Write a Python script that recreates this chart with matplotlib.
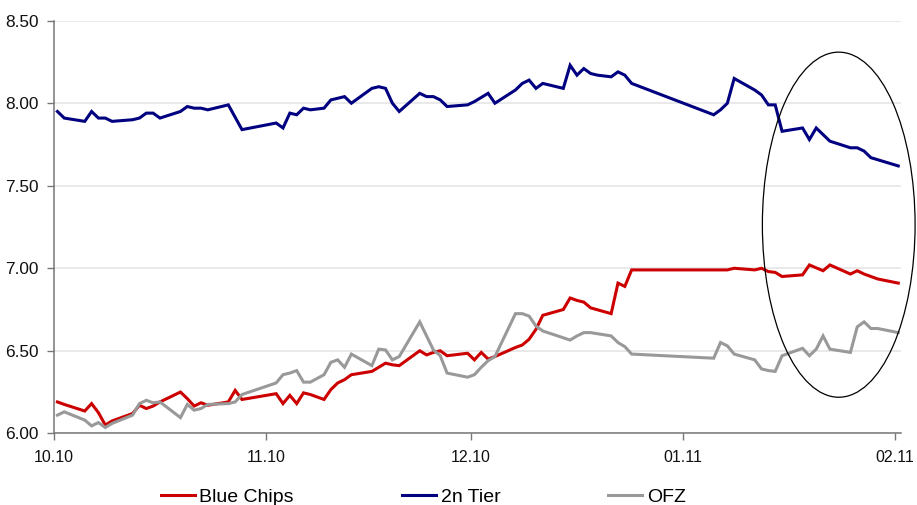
import matplotlib
matplotlib.use("Agg")
import matplotlib.pyplot as plt
import matplotlib.dates as mdates
from matplotlib.patches import Ellipse
import numpy as np
import pandas as pd

plt.rcParams["font.family"] = ["Liberation Sans", "DejaVu Sans"]

# Trading dates and yields (%) for the three bond segments; None = no quote
dates = [
    "2010-10-01", "2010-10-02", "2010-10-05", "2010-10-06", "2010-10-07", "2010-10-08",
    "2010-10-09", "2010-10-12", "2010-10-13", "2010-10-14", "2010-10-15", "2010-10-16",
    "2010-10-19", "2010-10-20", "2010-10-21", "2010-10-22", "2010-10-23", "2010-10-26",
    "2010-10-27", "2010-10-28", "2010-11-02", "2010-11-03", "2010-11-04", "2010-11-05",
    "2010-11-06", "2010-11-07", "2010-11-09", "2010-11-10", "2010-11-11", "2010-11-12",
    "2010-11-13", "2010-11-16", "2010-11-17", "2010-11-18", "2010-11-19", "2010-11-20",
    "2010-11-23", "2010-11-24", "2010-11-25", "2010-11-26", "2010-11-27", "2010-11-30",
    "2010-12-01", "2010-12-02", "2010-12-03", "2010-12-04", "2010-12-07", "2010-12-08",
    "2010-12-09", "2010-12-10", "2010-12-11", "2010-12-14", "2010-12-15", "2010-12-16",
    "2010-12-17", "2010-12-18", "2010-12-19", "2010-12-21", "2010-12-22", "2010-12-23",
    "2010-12-24", "2011-01-05", "2011-01-06", "2011-01-07", "2011-01-08", "2011-01-11",
    "2011-01-12", "2011-01-13", "2011-01-14", "2011-01-15", "2011-01-18", "2011-01-19",
    "2011-01-20", "2011-01-21", "2011-01-22", "2011-01-25", "2011-01-26", "2011-01-27",
    "2011-01-28", "2011-01-29", "2011-02-01",
]

blue_chips = [
    6.19, 6.175, 6.135, 6.18, 6.125, 6.05,
    6.075, 6.12, 6.17, 6.15, 6.165, 6.19,
    6.25, 6.21, 6.165, 6.185, 6.17, 6.19,
    6.26, 6.205, 6.24, 6.18, 6.23, 6.18,
    6.245, 6.235, 6.205, 6.265, 6.305, 6.325,
    6.355, 6.375, 6.40, 6.425, 6.415, 6.41,
    6.50, 6.475, 6.49, 6.50, 6.47, 6.485,
    6.445, 6.49, 6.45, 6.465, 6.52, 6.535,
    6.57, 6.63, 6.715, 6.75, 6.82, 6.805,
    6.795, 6.76, None, 6.725, 6.91, 6.89,
    6.99, 6.99, 6.99, 6.99, 7.00, 6.99,
    7.00, 6.98, 6.975, 6.95, 6.96, 7.02,
    None, 6.985, 7.02, 6.965, 6.985, 6.965,
    None, 6.935, 6.91,
]

second_tier = [
    7.95, 7.91, 7.89, 7.95, 7.91, 7.91,
    7.89, 7.90, 7.91, 7.94, 7.94, 7.91,
    7.95, 7.98, 7.97, 7.97, 7.96, 7.99,
    None, 7.84, 7.88, 7.85, 7.94, 7.93,
    7.97, 7.96, 7.97, 8.02, 8.03, 8.04,
    8.00, 8.09, 8.10, 8.09, 8.00, 7.95,
    8.06, 8.04, 8.04, 8.02, 7.98, 7.99,
    8.01, None, 8.06, 8.00, 8.08, 8.12,
    8.14, 8.09, 8.12, 8.09, 8.23, 8.17,
    8.21, 8.18, 8.17, 8.16, 8.19, 8.17,
    8.12, 7.93, 7.96, 8.00, 8.15, 8.08,
    8.05, 7.99, 7.99, 7.83, 7.85, 7.78,
    7.85, None, 7.77, 7.73, 7.73, 7.71,
    7.67, None, 7.62,
]

ofz = [
    6.11, 6.13, 6.08, 6.045, 6.065, 6.035,
    6.06, 6.11, 6.18, 6.20, 6.185, 6.19,
    6.095, 6.175, 6.14, 6.15, 6.175, 6.18,
    6.19, 6.235, 6.305, 6.355, 6.365, 6.38,
    6.31, 6.31, 6.355, 6.43, 6.445, 6.40,
    6.48, 6.41, 6.51, 6.505, 6.445, 6.465,
    6.675, 6.59, 6.505, 6.47, 6.365, 6.34,
    6.355, 6.40, 6.44, 6.465, 6.725, 6.725,
    6.71, 6.65, 6.62, None, 6.565, 6.59,
    6.61, 6.61, None, 6.59, 6.55, 6.525,
    6.48, 6.455, 6.55, 6.53, 6.48, 6.445,
    6.39, 6.38, 6.375, 6.47, 6.515, 6.47,
    6.51, 6.59, 6.51, 6.49, 6.645, 6.675,
    6.635, 6.635, 6.61,
]

series_names = ["Blue Chips", "2n Tier", "OFZ"]
series_colors = ["#cc0000", "#000080", "#999999"]

y_ticks = [6.00, 6.50, 7.00, 7.50, 8.00, 8.50]

# Figure layout
W, H = 917, 505
fig = plt.figure(figsize=(W / 100, H / 100), dpi=100)
ax = fig.add_axes([54 / W, 1 - 433.3 / H, (901 - 54) / W, (433.3 - 20.7) / H])

# Points sit in the middle of their day, as on a date axis between tick marks
x_all = mdates.date2num(pd.to_datetime(dates)) + 0.5

for name, values, color in zip(series_names, [blue_chips, second_tier, ofz], series_colors):
    v = np.array([np.nan if val is None else val for val in values], dtype=float)
    mask = ~np.isnan(v)
    ax.plot(x_all[mask], v[mask], color=color, lw=2.2, label=name,
            solid_joinstyle="miter", zorder=3)

x_start = mdates.date2num(pd.Timestamp("2010-10-01"))
ax.set_xlim(x_start, x_start + 123.9)
ax.set_ylim(6.0, 8.5)

ax.xaxis.set_major_locator(mdates.MonthLocator())
ax.xaxis.set_major_formatter(mdates.DateFormatter("%m.%y"))
ax.set_yticks(y_ticks)
ax.yaxis.set_major_formatter(matplotlib.ticker.FormatStrFormatter("%.2f"))

ax.yaxis.grid(True, color="#e3e3e3", lw=1.1)
ax.set_axisbelow(True)

for side in ["top", "right"]:
    ax.spines[side].set_visible(False)
for side in ["left", "bottom"]:
    ax.spines[side].set_color("#777777")
    ax.spines[side].set_linewidth(1.1)

ax.tick_params(axis="x", direction="out", length=5, width=1.0, color="#777777",
               labelsize=11.5, pad=7, labelcolor="#111111")
ax.tick_params(axis="y", direction="out", length=5, width=1.0, color="#777777",
               labelsize=12.4, pad=6, labelcolor="#111111")

# Highlight of the latest weeks
center_x = mdates.date2num(pd.Timestamp("2011-01-23 19:00"))
ax.add_patch(Ellipse((center_x, 7.264), width=22.34, height=2.091, fill=False,
                     ec="black", lw=0.9, clip_on=False, zorder=4))

fig.legend(loc="center", bbox_to_anchor=(0.4615, 0.016), ncol=3, frameon=False,
           fontsize=14, handlelength=1.75, handletextpad=0.25, columnspacing=5.54,
           borderpad=0, borderaxespad=0)

fig.savefig("out.png", dpi=100, facecolor="white")
